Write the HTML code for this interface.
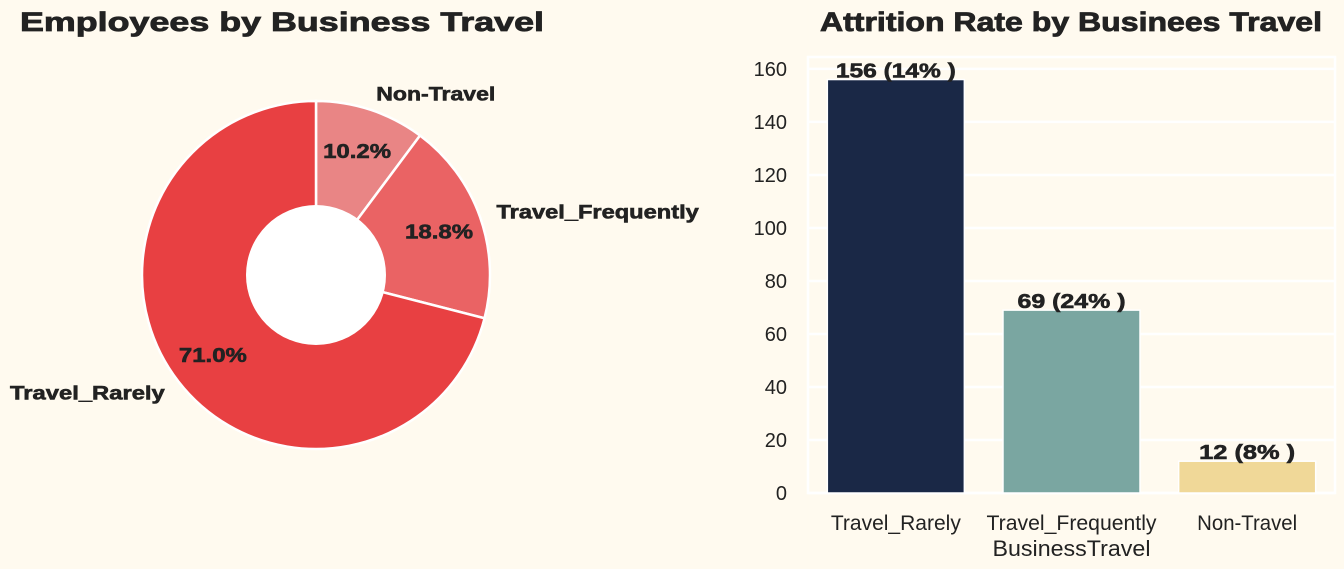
<!DOCTYPE html>
<html><head><meta charset="utf-8"><style>
body{margin:0;background:#FFFAEF;}
svg{display:block;font-family:"Liberation Sans",sans-serif;}
</style></head><body>
<svg width="1344" height="569" viewBox="0 0 1344 569">
<rect width="1344" height="569" fill="#FFFAEF"/>
<text x="20" y="31" textLength="524" lengthAdjust="spacingAndGlyphs" font-size="27" font-weight="bold" fill="#222" stroke="#222" stroke-width="0.8">Employees by Business Travel</text>
<text x="820" y="31" textLength="502" lengthAdjust="spacingAndGlyphs" font-size="27" font-weight="bold" fill="#222" stroke="#222" stroke-width="0.8">Attrition Rate by Businees Travel</text>
<g id="pie"></g>
<g id="bar"></g>
</svg>
<script>
const pieLabels=["Non-Travel","Travel_Frequently","Travel_Rarely"];
const pieValues=[10.2,18.8,71.0];
const pieColors=["#E98585","#EA6364","#E84042"];
const barCats=["Travel_Rarely","Travel_Frequently","Non-Travel"];
const barValues=[156,69,12];
const barPcts=[14,24,8];
const barColors=["#1A2846","#7AA6A1","#F0D898"];
const yTicks=[0,20,40,60,80,100,120,140,160];
const NS="http://www.w3.org/2000/svg";
function mk(p,t,a,txt){const e=document.createElementNS(NS,t);for(const k in a)e.setAttribute(k,a[k]);if(txt!==undefined)e.textContent=txt;p.appendChild(e);return e;}
function fitLen(s,perChar){return s.length*perChar;}
// pie
const pie=document.getElementById('pie');
const cx=316,cy=275,R=174,r=70;
const tot=pieValues.reduce((a,b)=>a+b,0);
let ang=0;
function pt(a,rad){return [cx+rad*Math.sin(a),cy-rad*Math.cos(a)];}
pieValues.forEach((v,i)=>{
  const a0=ang,a1=ang+v/tot*2*Math.PI;ang=a1;
  const large=(a1-a0)>Math.PI?1:0;
  const p0=pt(a0,R),p1=pt(a1,R);
  const w=mk(pie,'path',{d:`M${cx},${cy}L${p0[0]},${p0[1]}A${R},${R} 0 ${large} 1 ${p1[0]},${p1[1]}Z`,fill:pieColors[i],stroke:'#fff','stroke-width':2.5});
  
  
  const m=(a0+a1)/2;
  const lp=pt(m,R*0.75);
  const t=mk(pie,'text',{x:lp[0],y:lp[1]+7,'text-anchor':'middle','font-size':20,'font-weight':'bold',fill:'#222',stroke:'#222','stroke-width':0.6,textLength:68,lengthAdjust:'spacingAndGlyphs'},v.toFixed(1)+'%');
  
  
  const op=pt(m,R*1.1);
  const lab=pieLabels[i];
  const t2=mk(pie,'text',{x:op[0],y:op[1]+7,'text-anchor':Math.sin(m)>0?'start':'end','font-size':19,'font-weight':'bold',fill:'#222',stroke:'#222','stroke-width':0.6,textLength:fitLen(lab,11.9),lengthAdjust:'spacingAndGlyphs'},lab);
  
  
});
const hole=mk(pie,'circle',{cx:cx,cy:cy,r:r,fill:'#fff'});


// bar
const bar=document.getElementById('bar');
const L=808,Rt=1335,T=57,B=493,ymax=164.5;
const y=v=>B-(v/ymax)*(B-T);
const step=(Rt-L)/barCats.length;
const x=i=>L+step*(i+0.5);
const fr=mk(bar,'rect',{x:L,y:T,width:Rt-L,height:B-T,fill:'none',stroke:'#fff','stroke-width':2.5});


yTicks.forEach(v=>{
  const g=mk(bar,'line',{x1:L,x2:Rt,y1:y(v),y2:y(v),stroke:'#fff','stroke-width':2.5});
  
  
  const t=mk(bar,'text',{x:L-21,y:y(v)+7,'text-anchor':'end','font-size':20,fill:'#222'},String(v));
  
  
});
const bw=step*0.78;
barValues.forEach((v,i)=>{
  const b=mk(bar,'rect',{x:x(i)-bw/2,y:y(v),width:bw,height:B-y(v),fill:barColors[i],stroke:'#fff','stroke-width':1.5});
  
  
  const s=v+' ('+barPcts[i]+'% )';
  const t=mk(bar,'text',{x:x(i),y:y(v)-2,'text-anchor':'middle','font-size':20,'font-weight':'bold',fill:'#222',stroke:'#222','stroke-width':0.6,textLength:fitLen(s,12),lengthAdjust:'spacingAndGlyphs'},s);
  
  
  const c=mk(bar,'text',{x:x(i),y:530,'text-anchor':'middle','font-size':21,fill:'#222',textLength:fitLen(barCats[i],10),lengthAdjust:'spacingAndGlyphs'},barCats[i]);
  
  
});
const xt=mk(bar,'text',{x:(L+Rt)/2,y:556,'text-anchor':'middle','font-size':22,fill:'#222',textLength:158,lengthAdjust:'spacingAndGlyphs'},'BusinessTravel');


</script>
</body></html>
